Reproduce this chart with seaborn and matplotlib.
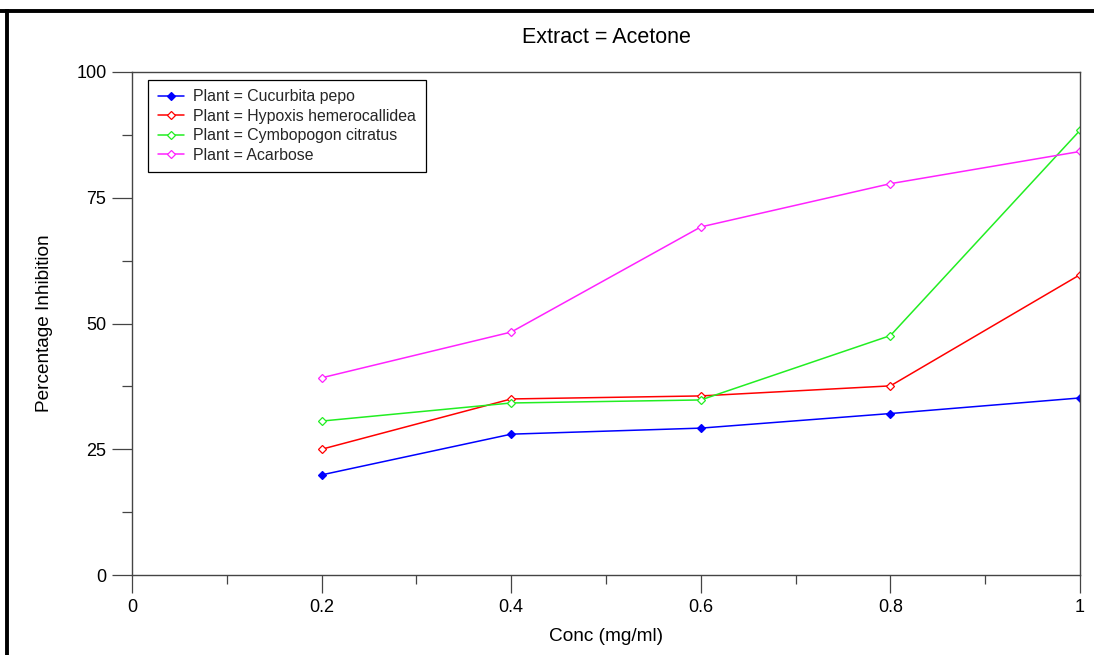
import matplotlib
matplotlib.use("Agg")
import matplotlib.pyplot as plt
import seaborn as sns
import pandas as pd
from matplotlib.lines import Line2D
from matplotlib.ticker import MultipleLocator

conc = [0.2, 0.4, 0.6, 0.8, 1.0]
cucurbita = [19.9, 28.0, 29.2, 32.1, 35.2]
hypoxis = [25.0, 35.0, 35.6, 37.6, 59.7]
cymbopogon = [30.6, 34.2, 34.8, 47.6, 88.4]
acarbose = [39.2, 48.3, 69.2, 77.8, 84.2]

plants = ["Cucurbita pepo", "Hypoxis hemerocallidea", "Cymbopogon citratus", "Acarbose"]
series = [cucurbita, hypoxis, cymbopogon, acarbose]
colors = ["#0000ff", "#ff0000", "#22ee22", "#ff22ff"]
filled = [True, False, False, False]

rows = []
for p, vals in zip(plants, series):
    for c, v in zip(conc, vals):
        rows.append({"Conc": c, "Inhibition": v, "Plant": f"Plant = {p}"})
df = pd.DataFrame(rows)

sns.set_theme(style="white")
plt.rcParams['font.family'] = ['Liberation Sans', 'DejaVu Sans']

fig = plt.figure(figsize=(10.94, 6.55), dpi=100)
ax = fig.add_axes([132/1094, 1-575/655, 948/1094, 503/655])

for p, col, f in zip(plants, colors, filled):
    sub = df[df["Plant"] == f"Plant = {p}"]
    sns.lineplot(data=sub, x="Conc", y="Inhibition", ax=ax, color=col,
                 marker="D", markersize=4.2, linewidth=1.1,
                 markerfacecolor=col if f else "white",
                 markeredgecolor=col, markeredgewidth=0.9,
                 label=f"Plant = {p}")

ax.set_xlim(0, 1)
ax.set_ylim(0, 100)
ax.xaxis.set_major_locator(MultipleLocator(0.2))
ax.xaxis.set_minor_locator(MultipleLocator(0.1))
ax.yaxis.set_major_locator(MultipleLocator(25))
ax.yaxis.set_minor_locator(MultipleLocator(12.5))
ax.set_xticks([0, 0.2, 0.4, 0.6, 0.8, 1.0])
ax.set_xticklabels(["0", "0.2", "0.4", "0.6", "0.8", "1"])
ax.set_yticks([0, 25, 50, 75, 100])
ax.set_yticklabels(["0", "25", "50", "75", "100"])

for s in ax.spines.values():
    s.set_color("#444444")
    s.set_linewidth(1.0)

ax.tick_params(axis="x", which="major", direction="out", length=13, width=0.9,
               color="#444444", labelsize=13, pad=4, bottom=True)
ax.tick_params(axis="x", which="minor", direction="out", length=6.5, width=0.9,
               color="#444444", bottom=True)
ax.tick_params(axis="y", which="major", direction="out", length=14.4, width=0.9,
               color="#444444", labelsize=13, pad=4, left=True)
ax.tick_params(axis="y", which="minor", direction="out", length=7.2, width=0.9,
               color="#444444", left=True)
ax.tick_params(which="both", labelcolor="black")

ax.set_xlabel("Conc (mg/ml)", fontsize=13.7, color="black")
ax.set_ylabel("Percentage Inhibition", fontsize=13.7, color="black")
ax.xaxis.set_label_coords(0.5, -0.105)
ax.yaxis.set_label_coords(-0.0833, 0.5)
ax.set_title("Extract = Acetone", fontsize=15.5, color="black", pad=21)

leg = ax.legend(loc="upper left", bbox_to_anchor=(16/948, 1-8/503), borderaxespad=0,
                fontsize=11.4, frameon=True, fancybox=False, edgecolor="black",
                framealpha=1, handlelength=1.65, handletextpad=0.6,
                labelspacing=0.28, borderpad=0.6)
leg.get_frame().set_linewidth(0.9)

# outer frame (top and left thick black borders)
fig.add_artist(Line2D([0, 1], [1-10.8/655, 1-10.8/655], transform=fig.transFigure,
                      color="black", linewidth=2.8, solid_capstyle="butt"))
fig.add_artist(Line2D([6.5/1094, 6.5/1094], [0, 1-9/655], transform=fig.transFigure,
                      color="black", linewidth=2.8, solid_capstyle="butt"))

fig.savefig("out.png", dpi=100)
